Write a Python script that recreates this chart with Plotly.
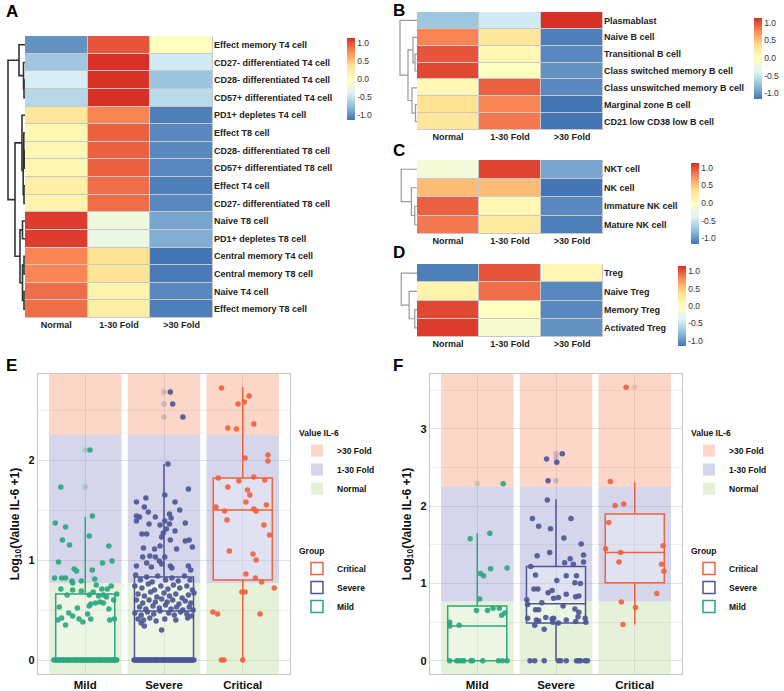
import plotly.graph_objects as go

W, H = 784, 691


def px(x):
    return x / W


def py(y):
    return 1 - y / H


FONT = "Liberation Sans"
cols = ["Normal", "1-30 Fold", ">30 Fold"]
heat_scale = ["#4575B4", "#91BFDB", "#E0F3F8", "#FFFFBF", "#FEE090", "#FC8D59", "#D73027"]

# ---- heatmap data (row scaled values) ----
a_rows = ["Effect memory T4 cell", "CD27- differentiated T4 cell", "CD28- differentiated T4 cell",
          "CD57+ differentiated T4 cell", "PD1+ depletes T4 cell", "Effect T8 cell",
          "CD28- differentiated T8 cell", "CD57+ differentiated T8 cell", "Effect T4 cell",
          "CD27- differentiated T8 cell", "Naive T8 cell", "PD1+ depletes T8 cell",
          "Central memory T4 cell", "Central memory T8 cell", "Naive T4 cell", "Effect memory T8 cell"]
a_vals = [[-1.00, 1.00, 0.00], [-0.70, 1.14, -0.45], [-0.42, 1.14, -0.72], [-0.58, 1.15, -0.57],
          [0.30, 0.80, -1.10], [0.10, 0.95, -1.05], [0.10, 0.95, -1.05], [0.10, 0.95, -1.05],
          [0.20, 0.90, -1.10], [0.15, 0.90, -1.05], [1.10, -0.20, -0.90], [1.10, -0.25, -0.85],
          [0.80, 0.35, -1.15], [0.80, 0.33, -1.13], [0.90, 0.15, -1.05], [0.90, 0.20, -1.10]]
a_links = [(2, 3, 1.0), (1, 16, 1.5), (0, 17, 6), (6, 7, 0.8), (5, 19, 1.2), (8, 9, 1.0),
           (20, 21, 1.8), (4, 22, 3), (10, 11, 2.5), (12, 13, 1.0), (14, 15, 1.0),
           (25, 26, 2.5), (24, 27, 5), (23, 28, 10), (18, 29, 17)]

b_rows = ["Plasmablast", "Naive B cell", "Transitional B cell", "Class switched memory B cell",
          "Class unswitched memory B cell", "Marginal zone B cell", "CD21 low CD38 low B cell"]
b_vals = [[-0.70, -0.45, 1.15], [0.80, 0.30, -1.10], [1.00, 0.10, -1.05], [1.05, 0.00, -1.00],
          [0.10, 0.95, -1.05], [0.35, 0.80, -1.15], [0.30, 0.85, -1.15]]
b_links = [(2, 3, 2), (1, 7, 4), (5, 6, 1.5), (4, 9, 5), (8, 10, 9), (0, 11, 17)]

c_rows = ["NKT cell", "NK cell", "Immature NK cell", "Mature NK cell"]
c_vals = [[-0.15, 1.07, -0.90], [0.55, 0.55, -1.15], [0.95, 0.10, -1.05], [0.85, 0.25, -1.10]]
c_links = [(2, 3, 2), (1, 4, 5), (0, 5, 14)]

d_rows = ["Treg", "Naive Treg", "Memory Treg", "Activated Treg"]
d_vals = [[-1.10, 1.00, 0.10], [0.15, 0.90, -1.05], [1.05, 0.00, -1.05], [1.10, -0.10, -1.00]]
d_links = [(2, 3, 2), (1, 4, 7), (0, 5, 14)]

# ---- IL-6 data ----
groups = ["Mild", "Severe", "Critical"]
group_colors = {"Mild": "#2AA77F", "Severe": "#4D5696", "Critical": "#F0623E"}
zone_names = ["Normal", "1-30 Fold", ">30 Fold"]
zone_colors = ["rgba(150,200,100,0.25)", "rgba(100,105,180,0.27)", "rgba(242,120,75,0.30)"]
zone_low = [-1, 0.77, 2.25]
zone_high = [0.77, 2.25, 10]

# box stats: q1, median, q3, lower whisker, upper whisker
e_box = {"Mild": [0, 0, 0.66, 0, 1.43], "Severe": [0, 0.49, 0.83, 0, 1.96],
         "Critical": [0.80, 1.50, 1.82, 0, 2.73]}
f_box = {"Mild": [0, 0.45, 0.71, 0, 1.65], "Severe": [0.49, 0.74, 1.22, 0, 2.09],
         "Critical": [1.01, 1.40, 1.90, 0.47, 2.31]}

e_outliers = {"Mild": [2.10, 1.73], "Severe": [2.68, 2.56, 2.43], "Critical": []}
f_outliers = {"Mild": [2.29], "Severe": [2.68, 2.62, 2.33], "Critical": [3.54]}

# jittered points as (offset, value)
e_mild = [(0.06, 2.10), (-0.31, 1.73), (-0.38, 1.37), (-0.25, 1.33), (-0.29, 1.20), (0.09, 1.44),
          (0.05, 1.24), (-0.20, 1.15), (0.30, 1.14), (-0.34, 0.98), (0.22, 0.97), (0.34, 0.99),
          (-0.39, 0.82), (-0.30, 0.82), (-0.25, 0.82), (-0.14, 0.91), (-0.11, 0.89), (0.09, 0.90),
          (-0.17, 0.79), (-0.16, 0.77), (-0.05, 0.79), (-0.31, 0.71), (0.12, 0.81), (0.14, 0.75),
          (-0.23, 0.65), (0.21, 0.71), (0.28, 0.71), (0.33, 0.74), (-0.05, 0.69), (-0.16, 0.70),
          (0.05, 0.65), (0.10, 0.68), (0.17, 0.64), (0.23, 0.65), (0.27, 0.63), (0.36, 0.60),
          (0.40, 0.66), (-0.33, 0.53), (0.05, 0.54), (0.07, 0.56), (0.13, 0.57), (0.19, 0.58),
          (0.23, 0.57), (0.30, 0.51), (-0.10, 0.52), (-0.21, 0.47), (-0.16, 0.44), (-0.30, 0.42),
          (-0.35, 0.40), (-0.08, 0.41), (-0.03, 0.38), (0.03, 0.46), (0.07, 0.41), (-0.25, 0.35),
          (0.31, 0.40), (0.37, 0.41)]
e_mild_zero = [-0.40, -0.38, -0.37, -0.34, -0.33, -0.31, -0.29, -0.27, -0.26, -0.23, -0.22, -0.20,
               -0.18, -0.15, -0.14, -0.12, -0.10, -0.09, -0.06, -0.05, -0.03, -0.01, 0.01, 0.03,
               0.04, 0.07, 0.08, 0.10, 0.12, 0.13, 0.16, 0.17, 0.19, 0.21, 0.22, 0.25, 0.26, 0.28,
               0.30, 0.32, 0.34, 0.35, 0.37, 0.39, 0.40]
e_severe = [(0.08, 2.68), (0.11, 2.56), (0.24, 2.43), (0.05, 1.96), (0.31, 1.71), (0.01, 1.65),
            (-0.23, 1.62), (-0.35, 1.58), (0.14, 1.58), (-0.25, 1.53), (0.20, 1.50), (-0.20, 1.48),
            (-0.35, 1.44), (-0.31, 1.43), (-0.35, 1.39), (0.07, 1.46), (-0.19, 1.36), (-0.05, 1.35),
            (0.01, 1.39), (0.09, 1.42), (0.07, 1.36), (0.27, 1.37), (-0.11, 1.43), (-0.28, 1.26),
            (-0.22, 1.26), (-0.01, 1.27), (0.03, 1.31), (0.14, 1.29), (-0.03, 1.23), (0.08, 1.20),
            (0.27, 1.19), (0.32, 1.20), (0.36, 1.13), (-0.05, 1.14), (-0.12, 1.11), (-0.26, 1.12),
            (0.16, 1.11), (-0.27, 1.03), (-0.18, 1.04), (-0.11, 1.03), (-0.06, 0.99), (0.01, 1.03),
            (0.08, 0.94), (0.10, 0.92), (0.31, 0.94), (0.34, 0.90), (-0.35, 0.94), (-0.22, 0.97),
            (-0.16, 0.93), (-0.03, 0.96),
            (-0.36, 0.85), (-0.30, 0.80), (-0.22, 0.83), (-0.15, 0.78), (-0.08, 0.84), (0.02, 0.80),
            (0.10, 0.82), (0.18, 0.79), (0.26, 0.84), (0.33, 0.80), (-0.37, 0.74), (-0.28, 0.72),
            (-0.20, 0.76), (-0.12, 0.70), (-0.04, 0.74), (0.05, 0.71), (0.12, 0.75), (0.20, 0.72),
            (0.29, 0.74), (0.36, 0.70), (-0.33, 0.66), (-0.25, 0.64), (-0.17, 0.68), (-0.09, 0.63),
            (0.00, 0.67), (0.07, 0.64), (0.15, 0.66), (0.23, 0.62), (0.31, 0.65), (0.38, 0.67),
            (-0.35, 0.60), (-0.27, 0.57), (-0.19, 0.60), (-0.11, 0.58), (-0.03, 0.61), (0.04, 0.58),
            (0.11, 0.60), (0.19, 0.56), (0.27, 0.59), (0.34, 0.57), (-0.31, 0.53), (-0.23, 0.51),
            (-0.14, 0.54), (-0.06, 0.52), (0.02, 0.55), (0.09, 0.51), (0.16, 0.53), (0.24, 0.50),
            (0.32, 0.53), (0.37, 0.50), (-0.37, 0.47), (-0.29, 0.45), (-0.21, 0.48), (-0.13, 0.46),
            (-0.05, 0.49), (0.06, 0.47), (0.13, 0.45), (0.21, 0.48), (0.29, 0.46), (0.35, 0.44),
            (-0.33, 0.41), (-0.26, 0.40), (-0.18, 0.42), (-0.10, 0.39), (0.01, 0.41), (0.15, 0.40),
            (0.30, 0.42), (-0.29, 0.37), (-0.25, 0.34), (-0.03, 0.30)]
e_severe_zero = [-0.38, -0.37, -0.35, -0.34, -0.32, -0.30, -0.29, -0.27, -0.25, -0.24, -0.22,
                 -0.21, -0.19, -0.17, -0.16, -0.14, -0.12, -0.11, -0.09, -0.08, -0.06, -0.04,
                 -0.03, -0.01, 0.00, 0.02, 0.04, 0.05, 0.07, 0.09, 0.10, 0.12, 0.13, 0.15, 0.17,
                 0.18, 0.20, 0.22, 0.23, 0.25, 0.27, 0.28, 0.30, 0.31, 0.33, 0.35, 0.36, 0.38]
e_critical = [(-0.27, 2.72), (0.08, 2.64), (-0.06, 2.56), (0.02, 2.58), (0.14, 2.36), (-0.19, 2.32),
              (-0.08, 2.31), (0.32, 2.05), (0.32, 1.99), (0.03, 2.02), (-0.31, 1.82), (0.14, 1.83),
              (0.28, 1.80), (-0.05, 1.79), (-0.19, 1.73), (0.06, 1.70), (0.09, 1.65), (0.04, 1.58),
              (-0.34, 1.53), (0.30, 1.55), (-0.23, 1.49), (0.14, 1.51), (0.17, 1.49), (-0.20, 1.40),
              (0.27, 1.35), (0.34, 1.25), (-0.17, 1.09), (0.13, 1.06), (0.17, 1.00), (0.04, 0.86),
              (0.16, 0.82), (0.24, 0.78), (0.40, 0.72), (-0.01, 0.68), (0.03, 0.68), (-0.38, 0.48),
              (-0.32, 0.46), (0.22, 0.46), (-0.27, 0.0), (-0.24, 0.0), (0.00, 0.0)]

f_mild = [(0.33, 2.29), (0.16, 1.65), (-0.09, 1.58), (0.04, 1.13), (0.08, 1.10), (0.17, 1.19),
          (0.38, 1.20), (0.03, 0.80), (-0.01, 0.65), (0.13, 0.65), (0.20, 0.68), (0.28, 0.68),
          (0.31, 0.59), (0.35, 0.62), (-0.35, 0.50), (-0.35, 0.45), (-0.23, 0.46),
          (-0.35, 0.0), (-0.26, 0.0), (-0.24, 0.0), (-0.20, 0.0), (-0.17, 0.0), (-0.08, 0.0),
          (-0.06, 0.0), (0.07, 0.0), (0.27, 0.0), (0.32, 0.0), (0.38, 0.0)]
f_severe = [(0.08, 2.68), (-0.12, 2.61), (0.01, 2.57), (-0.10, 2.33), (-0.11, 2.08), (-0.30, 1.84),
            (0.19, 1.84), (-0.22, 1.74), (-0.07, 1.71), (0.10, 1.59), (0.32, 1.51), (-0.24, 1.36),
            (-0.08, 1.40), (0.35, 1.37), (0.18, 1.32), (0.11, 1.27), (0.35, 1.28), (0.22, 1.25),
            (-0.32, 1.22), (-0.26, 1.11), (0.26, 1.10), (0.13, 1.10), (0.01, 1.04), (0.24, 1.01),
            (0.31, 1.00), (-0.28, 0.93), (-0.23, 0.93), (-0.10, 0.88), (-0.05, 0.91), (0.13, 0.86),
            (0.29, 0.84), (0.25, 0.83), (-0.03, 0.81), (0.03, 0.82), (-0.37, 0.79), (-0.36, 0.73),
            (-0.18, 0.75), (0.09, 0.71), (-0.26, 0.66), (-0.22, 0.66), (0.24, 0.67), (0.29, 0.63),
            (-0.36, 0.55), (-0.25, 0.53), (-0.22, 0.52), (-0.13, 0.56), (-0.05, 0.54), (-0.03, 0.55),
            (0.13, 0.53), (0.25, 0.51), (0.28, 0.57), (0.37, 0.55), (-0.27, 0.46), (-0.15, 0.41),
            (-0.04, 0.50), (0.38, 0.50), (0.03, 0.49),
            (-0.33, 0.0), (-0.27, 0.0), (-0.15, 0.0), (0.03, 0.0), (0.06, 0.0), (0.13, 0.0),
            (0.26, 0.0), (0.29, 0.0), (0.31, 0.0), (0.37, 0.0), (0.40, 0.0)]
f_critical = [(-0.11, 3.54), (-0.31, 2.32), (-0.25, 2.01), (-0.14, 2.03), (-0.33, 1.79), (-0.37, 1.45),
              (0.36, 1.49), (-0.18, 1.40), (-0.20, 1.28), (0.34, 1.25), (0.37, 1.16), (0.28, 0.87),
              (-0.17, 0.76), (0.01, 0.69), (-0.15, 0.47)]

fig = go.Figure()
layout = {}
shapes = []
annotations = []


def dendro_lines(links, n):
    pos = {i: float(i) for i in range(n)}
    hgt = {i: 0.0 for i in range(n)}
    xs, ys = [], []
    k = n
    for a, b, h in links:
        xs += [hgt[a], h, h, hgt[b], None]
        ys += [pos[a], pos[a], pos[b], pos[b], None]
        pos[k] = (pos[a] + pos[b]) / 2
        hgt[k] = h
        k += 1
    return xs, ys


def add_heatmap(idx, rows, vals, links, box, dbox, cbar, dcolor, dwidth):
    n = len(rows)
    hx, hy = idx, idx + 1
    xa, ya = ("x" if hx == 1 else f"x{hx}"), ("y" if hx == 1 else f"y{hx}")
    fig.add_trace(go.Heatmap(
        z=vals, x=list(range(3)), y=list(range(n)), xaxis=xa, yaxis=ya,
        zmin=-1.15, zmax=1.15, colorscale=heat_scale, xgap=1, ygap=1,
        colorbar=dict(x=px(cbar[0]), xanchor="left", y=py(cbar[1]), yanchor="middle",
                      len=cbar[2], lenmode="pixels", thickness=8, outlinewidth=0,
                      xpad=0, ypad=0, ticks="", tickvals=[-1, -0.5, 0, 0.5, 1],
                      ticktext=["-1.0", "-0.5", "0.0", "0.5", "1.0"],
                      tickfont=dict(family=FONT, size=8.5, color="#333"))))
    x0, x1, y0, y1 = box
    layout["xaxis" if hx == 1 else f"xaxis{hx}"] = dict(
        domain=[px(x0), px(x1)], range=[-0.5, 2.5], tickvals=[0, 1, 2], ticktext=cols,
        showgrid=False, zeroline=False, ticks="", anchor=ya,
        tickfont=dict(family=FONT, size=9, color="#222", weight="bold"))
    layout["yaxis" if hx == 1 else f"yaxis{hx}"] = dict(
        domain=[py(y1), py(y0)], range=[n - 0.5, -0.5], tickvals=list(range(n)), ticktext=rows,
        side="right", showgrid=False, zeroline=False, ticks="", anchor=xa,
        tickfont=dict(family=FONT, size=9, color="#222", weight="bold"))
    shapes.append(dict(type="rect", xref=xa, yref=ya, x0=-0.5, x1=2.5, y0=-0.5, y1=n - 0.5,
                       fillcolor="#c8c8c8", line=dict(color="#c8c8c8", width=1), layer="below"))
    xs, ys = dendro_lines(links, n)
    dx, dy = f"x{hy}", f"y{hy}"
    fig.add_trace(go.Scatter(x=xs, y=ys, xaxis=dx, yaxis=dy, mode="lines",
                             line=dict(color=dcolor, width=dwidth), showlegend=False,
                             hoverinfo="skip"))
    layout[f"xaxis{hy}"] = dict(domain=[px(dbox[0]), px(dbox[1])], range=[dbox[2], 0],
                                visible=False, anchor=dy)
    layout[f"yaxis{hy}"] = dict(domain=[py(y1), py(y0)], range=[n - 0.5, -0.5],
                                visible=False, anchor=dx)


add_heatmap(1, a_rows, a_vals, a_links, (25, 213, 36, 318), (5, 25, 20), (347, 79, 82), "#333", 1.6)
add_heatmap(3, b_rows, b_vals, b_links, (417, 603, 12, 130), (398, 417, 19), (754, 58, 81), "#999", 1.2)
add_heatmap(5, c_rows, c_vals, c_links, (417, 603, 160, 234), (399, 417, 16), (691, 203, 81), "#999", 1.2)
add_heatmap(7, d_rows, d_vals, d_links, (417, 603, 264, 337), (399, 417, 16), (678, 306, 80), "#999", 1.2)


def add_box_panel(idx, box_stats, outliers, pts_map, zero_map, dom, yrange, yticks, leg_zone, leg_grp):
    xa, ya = f"x{idx}", f"y{idx}"
    for zname, zcol, lo, hi, rank in zip(zone_names, zone_colors, zone_low, zone_high, [3, 2, 1]):
        fig.add_trace(go.Bar(x=[1, 2, 3], y=[hi - lo] * 3, base=[lo] * 3, width=0.92,
                             marker=dict(color=zcol, line=dict(width=0)), name=zname,
                             xaxis=xa, yaxis=ya, legend=leg_zone, legendrank=rank,
                             hoverinfo="skip"))
    for gi, g in enumerate(groups):
        col = group_colors[g]
        q1, med, q3, lo, hi = box_stats[g]
        fig.add_trace(go.Box(x=[gi + 1], q1=[q1], median=[med], q3=[q3], lowerfence=[lo],
                             upperfence=[hi], width=0.75, whiskerwidth=0, boxpoints=False,
                             line=dict(color=col, width=1.5), fillcolor="rgba(255,255,255,0.3)",
                             marker=dict(color=col, size=5), name=g, xaxis=xa, yaxis=ya,
                             legend=leg_grp, legendrank=3 - gi, hoverinfo="skip"))
        if outliers[g]:
            fig.add_trace(go.Scatter(x=[gi + 1] * len(outliers[g]), y=outliers[g], mode="markers",
                                     marker=dict(color=col, size=5.5, opacity=0.25),
                                     xaxis=xa, yaxis=ya, showlegend=False, hoverinfo="skip"))
        pts = pts_map[g]
        xs = [gi + 1 + d for d, v in pts] + [gi + 1 + d for d in zero_map.get(g, [])]
        ys = [v for d, v in pts] + [0.0] * len(zero_map.get(g, []))
        fig.add_trace(go.Scatter(x=xs, y=ys, mode="markers",
                                 marker=dict(color=col, size=5.5, opacity=0.92),
                                 xaxis=xa, yaxis=ya, showlegend=False, hoverinfo="skip"))
    layout[f"xaxis{idx}"] = dict(
        domain=[px(dom[0]), px(dom[1])], range=[0.4, 3.6], tickvals=[1, 2, 3], ticktext=groups,
        showgrid=True, gridcolor="#e4e4e4", gridwidth=1, zeroline=False, ticks="",
        showline=True, linecolor="#c6c6c6", linewidth=1.2, mirror=True, anchor=ya,
        tickfont=dict(family=FONT, size=11.5, color="#111", weight="bold"))
    layout[f"yaxis{idx}"] = dict(
        domain=[py(dom[3]), py(dom[2])], range=yrange, tickvals=yticks, showgrid=True,
        gridcolor="#e4e4e4", gridwidth=1, zeroline=False, ticks="", showline=True,
        linecolor="#c6c6c6", linewidth=1.2, mirror=True, anchor=xa,
        minor=dict(dtick=0.5, showgrid=True, gridcolor="#efefef", gridwidth=1),
        title=dict(text="Log<sub>10</sub>(Value IL-6 +1)", standoff=6,
                   font=dict(family=FONT, size=12, color="#111", weight="bold")),
        tickfont=dict(family=FONT, size=11, color="#111", weight="bold"))


add_box_panel(9, e_box, e_outliers, {"Mild": e_mild, "Severe": e_severe, "Critical": e_critical},
              {"Mild": e_mild_zero, "Severe": e_severe_zero}, (38, 290, 374, 674),
              [-0.14, 2.86], [0, 1, 2], "legend", "legend2")
add_box_panel(10, f_box, f_outliers, {"Mild": f_mild, "Severe": f_severe, "Critical": f_critical},
              {}, (430, 682, 374, 674), [-0.17, 3.71], [0, 1, 2, 3], "legend3", "legend4")


def leg(x, y, title):
    return dict(x=px(x), y=py(y), xanchor="left", yanchor="top", bgcolor="rgba(0,0,0,0)",
                traceorder="normal", itemclick=False, itemdoubleclick=False,
                title=dict(text=title, font=dict(family=FONT, size=8.5, color="#111", weight="bold")),
                font=dict(family=FONT, size=8.5, color="#111", weight="bold"))


for letter, lx, ly in [("A", 4, 12), ("B", 391, 10), ("C", 391, 150), ("D", 391, 252),
                       ("E", 4, 365), ("F", 391, 365)]:
    annotations.append(dict(text=letter, x=px(lx), y=py(ly), xref="paper", yref="paper",
                            xanchor="left", yanchor="middle", showarrow=False,
                            font=dict(family=FONT, size=17, color="#000", weight="bold")))

fig.update_layout(
    width=W, height=H, margin=dict(l=0, r=0, t=0, b=0, autoexpand=False),
    paper_bgcolor="white", plot_bgcolor="white",
    barmode="overlay", boxmode="overlay",
    shapes=shapes, annotations=annotations,
    legend=leg(297, 425, "Value IL-6"), legend2=leg(297, 543, "Group"),
    legend3=leg(689, 425, "Value IL-6"), legend4=leg(689, 543, "Group"),
    **layout)

# page body has an 8px default margin; drop it so the figure fills the window
fig.write_html("out.html", config={"displayModeBar": False},
               post_script="document.body.style.margin='0';document.body.style.overflow='hidden';")
